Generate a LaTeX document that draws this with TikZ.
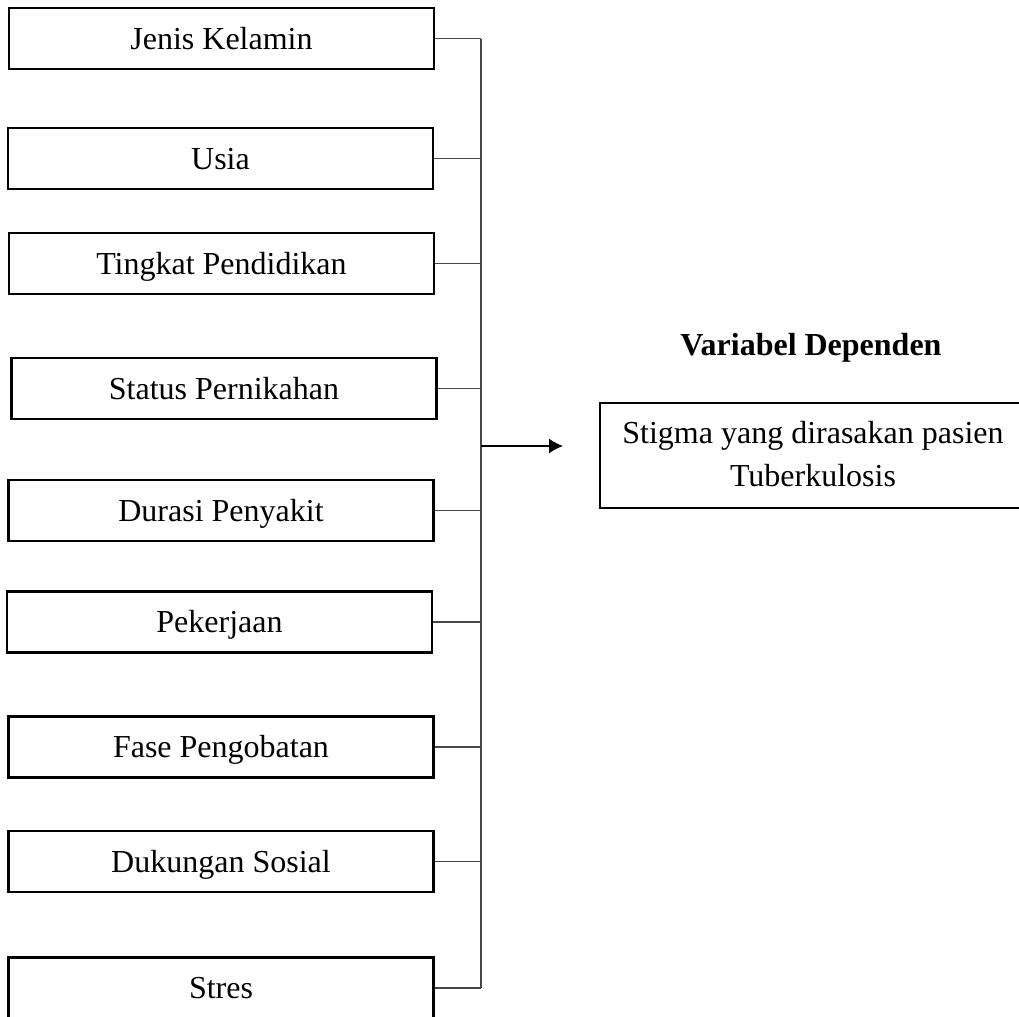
\documentclass[tikz,border=0pt]{standalone}
\usepackage{fontspec}
\setmainfont{Liberation Serif}
\usepackage{tikz}
\usetikzlibrary{arrows.meta, positioning, calc}
\definecolor{KKLine}{RGB}{70, 70, 70}

\begin{document}
\begin{tikzpicture}[x=0.5pt, y=-0.5pt,
  varbox/.style={draw=black, line width=1.1pt, minimum width=212.5pt, minimum height=30.5pt,
    inner sep=0pt, text height=14.5pt, text depth=4pt, font=\fontsize{16}{21.5}\selectfont},
  depbox/.style={draw=black, line width=1.1pt, minimum width=213pt, minimum height=52.5pt,
    align=center, inner sep=0pt, font=\fontsize{16}{21.5}\selectfont},
  link/.style={draw=KKLine, line width=0.7pt},
  arrowlink/.style={draw=black, line width=0.7pt, -{Latex[length=7pt, width=7.5pt]}}]
  \useasboundingbox (0,0) rectangle (1019,1017);

  % variabel independen
  \node[varbox] (jk) at (221.5,38.5) {Jenis Kelamin};
  \node[varbox] (usia) at (220.5,158.5) {Usia};
  \node[varbox] (tp) at (221.5,263.5) {Tingkat Pendidikan};
  \node[varbox] (sp) at (224,388.5) {Status Pernikahan};
  \node[varbox] (dp) at (221,510.5) {Durasi Penyakit};
  \node[varbox] (pk) at (219.5,622) {Pekerjaan};
  \node[varbox] (fp) at (221,747) {Fase Pengobatan};
  \node[varbox] (ds) at (221,861.5) {Dukungan Sosial};
  \node[varbox] (st) at (221,988) {Stres};

  % variabel dependen
  \node[anchor=base, font=\fontsize{16}{21.5}\selectfont\bfseries] (judul) at (811,355) {Variabel Dependen};
  \node[depbox] (stigma) at (813,455.5) {\raisebox{1.5pt}{Stigma yang dirasakan pasien}\\\raisebox{1.5pt}{Tuberkulosis}};

  \coordinate (spine) at (481,446);
  \coordinate (tip) at (563,446);

  \draw[link] (jk.east -| spine) -- (st.east -| spine);
  \foreach \v in {jk, usia, tp, sp, dp, pk, fp, ds, st}
    \draw[link] (\v.east) -- (\v.east -| spine);
  \draw[arrowlink] (spine) -- (tip);
\end{tikzpicture}
\end{document}
